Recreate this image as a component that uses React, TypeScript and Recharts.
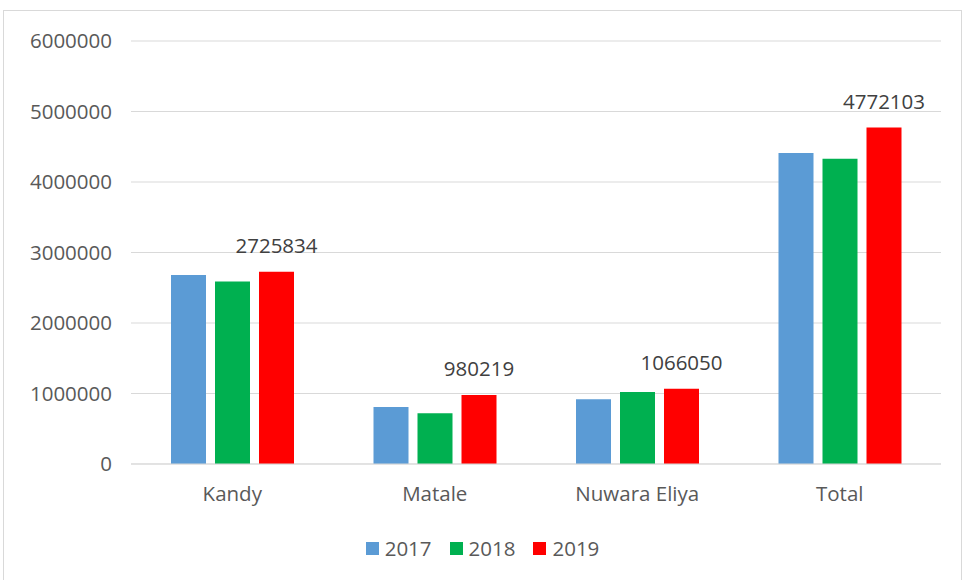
import { Bar, BarChart, CartesianGrid, LabelList, XAxis, YAxis } from 'recharts'

const districts = ['Kandy', 'Matale', 'Nuwara Eliya', 'Total']
const y2017 = [2680000, 810000, 920000, 4410000]
const y2018 = [2590000, 720000, 1020000, 4330000]
const y2019 = [2725834, 980219, 1066050, 4772103]
const yTicks = [0, 1000000, 2000000, 3000000, 4000000, 5000000, 6000000]

const series = [
  { key: 'y2017', label: '2017', color: '#5B9BD5' },
  { key: 'y2018', label: '2018', color: '#00B050' },
  { key: 'y2019', label: '2019', color: '#FF0000' }
]

const FONT = '"Open Sans", sans-serif'
const TICK = { fill: '#595959', fontSize: 20.5, fontFamily: FONT }

export default function App() {
  const data = districts.map((name, i) => ({
    name,
    y2017: y2017[i],
    y2018: y2018[i],
    y2019: y2019[i]
  }))

  return (
    <div
      style={{
        position: 'absolute',
        left: 3,
        top: 10,
        width: 957,
        height: 580,
        border: '1px solid #d9d9d9',
        background: '#fff',
        fontFamily: FONT
      }}
    >
      <BarChart
        width={957}
        height={500}
        data={data}
        margin={{ top: 30, right: 20, bottom: 0, left: 0 }}
        barGap={9}
        barCategoryGap="19.5%"
      >
        <CartesianGrid vertical={false} stroke="#d9d9d9" />
        <XAxis
          dataKey="name"
          height={47}
          tickLine={false}
          axisLine={{ stroke: '#d9d9d9' }}
          tickSize={0}
          tickMargin={22}
          tick={TICK}
        />
        <YAxis
          width={127}
          domain={[0, 6000000]}
          ticks={yTicks}
          interval={0}
          tickLine={false}
          axisLine={false}
          tickSize={0}
          tickMargin={19}
          tick={TICK}
        />
        {series.map((s) => (
          <Bar key={s.key} dataKey={s.key} fill={s.color} barSize={35} isAnimationActive={false}>
            {s.key === 'y2019' && (
              <LabelList
                dataKey={s.key}
                position="top"
                offset={19}
                style={{ fill: '#404040', fontSize: 20.5, fontFamily: FONT }}
              />
            )}
          </Bar>
        ))}
      </BarChart>
      <div
        style={{
          position: 'absolute',
          top: 523,
          left: 0,
          width: 957,
          display: 'flex',
          justifyContent: 'center',
          gap: 18
        }}
      >
        {series.map((s) => (
          <div key={s.key} style={{ display: 'flex', alignItems: 'center', gap: 6 }}>
            <span style={{ width: 13, height: 13, background: s.color, display: 'inline-block' }} />
            <span style={{ color: '#595959', fontSize: 20.5 }}>{s.label}</span>
          </div>
        ))}
      </div>
    </div>
  )
}
